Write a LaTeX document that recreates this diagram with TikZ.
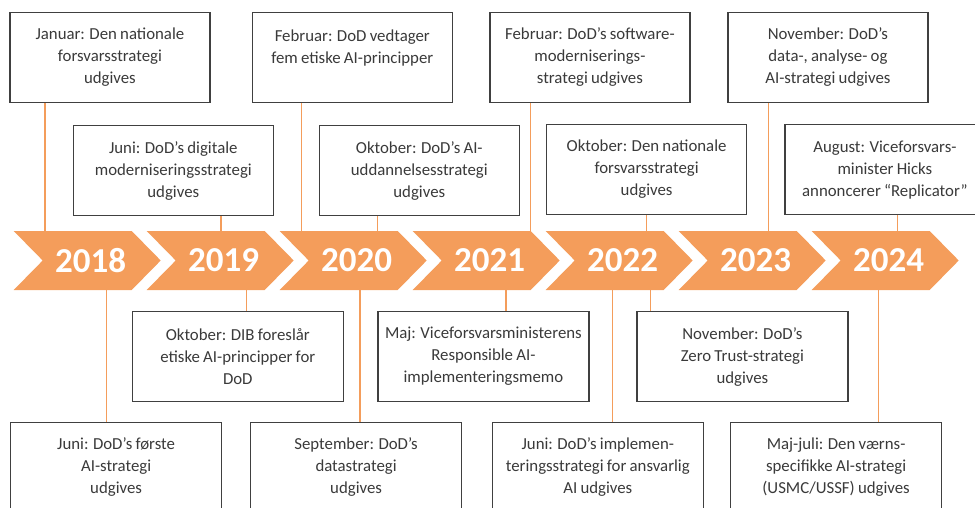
\documentclass[tikz,border=0pt]{standalone}
\usepackage{fontspec}
\setmainfont[WordSpace=0.85]{Carlito}
\definecolor{chev}{HTML}{F49D5B}
\definecolor{ink}{HTML}{3A3A3A}
\definecolor{frame}{HTML}{404040}
\begin{document}
\begin{tikzpicture}[x=1pt,y=-1pt,
  event/.style={draw=frame, line width=1.2pt, fill=white, text=ink, align=center,
    anchor=north west, minimum height=90pt, inner sep=2pt,
    font=\fontsize{16.8}{22}\selectfont,
    execute at begin node={\rule{0pt}{20pt}}},
  topbox/.style={event, minimum width=200pt},
  lowbox/.style={event, minimum width=211pt},
  conn/.style={draw=chev, line width=1.5pt},
  year/.style={text=white, font=\fontsize{35}{35}\bfseries\selectfont}]
\useasboundingbox (0,0) rectangle (975,508);
\clip (0,0) rectangle (975,508);

% band of year chevrons
\coordinate (bandtop) at (0,231);
\coordinate (bandbot) at (0,290);
\foreach \i/\yr in {0/2018,1/2019,2/2020,3/2021,4/2022,5/2023,6/2024}{
  \pgfmathsetmacro\L{13.7+133*\i}
  \fill[chev] (\L,231) -- ++(118,0) -- ++(29,29.5) -- ++(-29,29.5)
    -- ++(-118,0) -- ++(29,-29.5) -- cycle;
  \node[year] (y\yr) at (\L+77,260.5) {\yr};
}

% events above the band
\node[topbox] (jan18) at (9.3,11.7) {Januar: Den nationale\\forsvarsstrategi\\udgives};
\node[topbox] (feb20) at (251.7,11.7) {Februar: DoD vedtager\\fem etiske AI-principper\\\mbox{}};
\node[topbox] (feb21) at (489.3,11.7) {Februar: DoD’s software-\\moderniserings-\\strategi udgives};
\node[topbox] (nov23) at (727.3,11.7) {November: DoD’s\\data-, analyse- og\\AI-strategi udgives};

\node[topbox] (jun19) at (72.7,125) {Juni: DoD’s digitale\\moderniseringsstrategi\\udgives};
\node[topbox] (okt20) at (318.7,125) {Oktober: DoD’s AI-\\uddannelsesstrategi\\udgives};
\node[topbox] (okt22) at (546,124) {Oktober: Den nationale\\forsvarsstrategi\\udgives};
\node[topbox] (aug24) at (784.3,124) {August: Viceforsvars-\\minister Hicks\\annoncerer “Replicator”};

% events below the band
\node[lowbox] (okt19) at (131.7,311) {Oktober: DIB foreslår\\etiske AI-principper for\\DoD};
\node[lowbox] (maj21) at (377.3,311) {Maj: Viceforsvarsministerens\\Responsible AI-\\implementeringsmemo};
\node[lowbox] (nov22) at (636.3,311) {November: DoD’s\\Zero Trust-strategi\\udgives};

\node[lowbox] (jun18) at (10,421.7) {Juni: DoD’s første\\AI-strategi\\udgives};
\node[lowbox] (sep20) at (250,421.7) {September: DoD’s\\datastrategi\\udgives};
\node[lowbox] (jun22) at (491.7,421.7) {Juni: DoD’s implemen-\\teringsstrategi for ansvarlig\\AI udgives};
\node[lowbox] (mj24) at (730,421.7) {Maj-juli: Den værns-\\specifikke AI-strategi\\(USMC/USSF) udgives};

% stems from the boxes to the band
\draw[conn] (jan18.south -| 45,0) -- (bandtop -| 45,0);
\draw[conn] (feb20.south -| 301.7,0) -- (bandtop -| 301.7,0);
\draw[conn] (feb21.south -| 530.7,0) -- (bandtop -| 530.7,0);
\draw[conn] (nov23.south -| 768.3,0) -- (bandtop -| 768.3,0);
\draw[conn] (jun19.south -| 221,0) -- (bandtop -| 221,0);
\draw[conn] (okt20.south -| 377.3,0) -- (bandtop -| 377.3,0);
\draw[conn] (okt22.south -| 646.7,0) -- (bandtop -| 646.7,0);
\draw[conn] (aug24.south -| 897.7,0) -- (bandtop -| 897.7,0);

\draw[conn] (bandbot -| 246.7,0) -- (okt19.north -| 246.7,0);
\draw[conn] (bandbot -| 506,0) -- (maj21.north -| 506,0);
\draw[conn] (bandbot -| 650.7,0) -- (nov22.north -| 650.7,0);
\draw[conn] (bandbot -| 106.7,0) -- (jun18.north -| 106.7,0);
\draw[conn] (bandbot -| 360,0) -- (sep20.north -| 360,0);
\draw[conn] (bandbot -| 612.7,0) -- (jun22.north -| 612.7,0);
\draw[conn] (bandbot -| 878.7,0) -- (mj24.north -| 878.7,0);
\end{tikzpicture}
\end{document}
